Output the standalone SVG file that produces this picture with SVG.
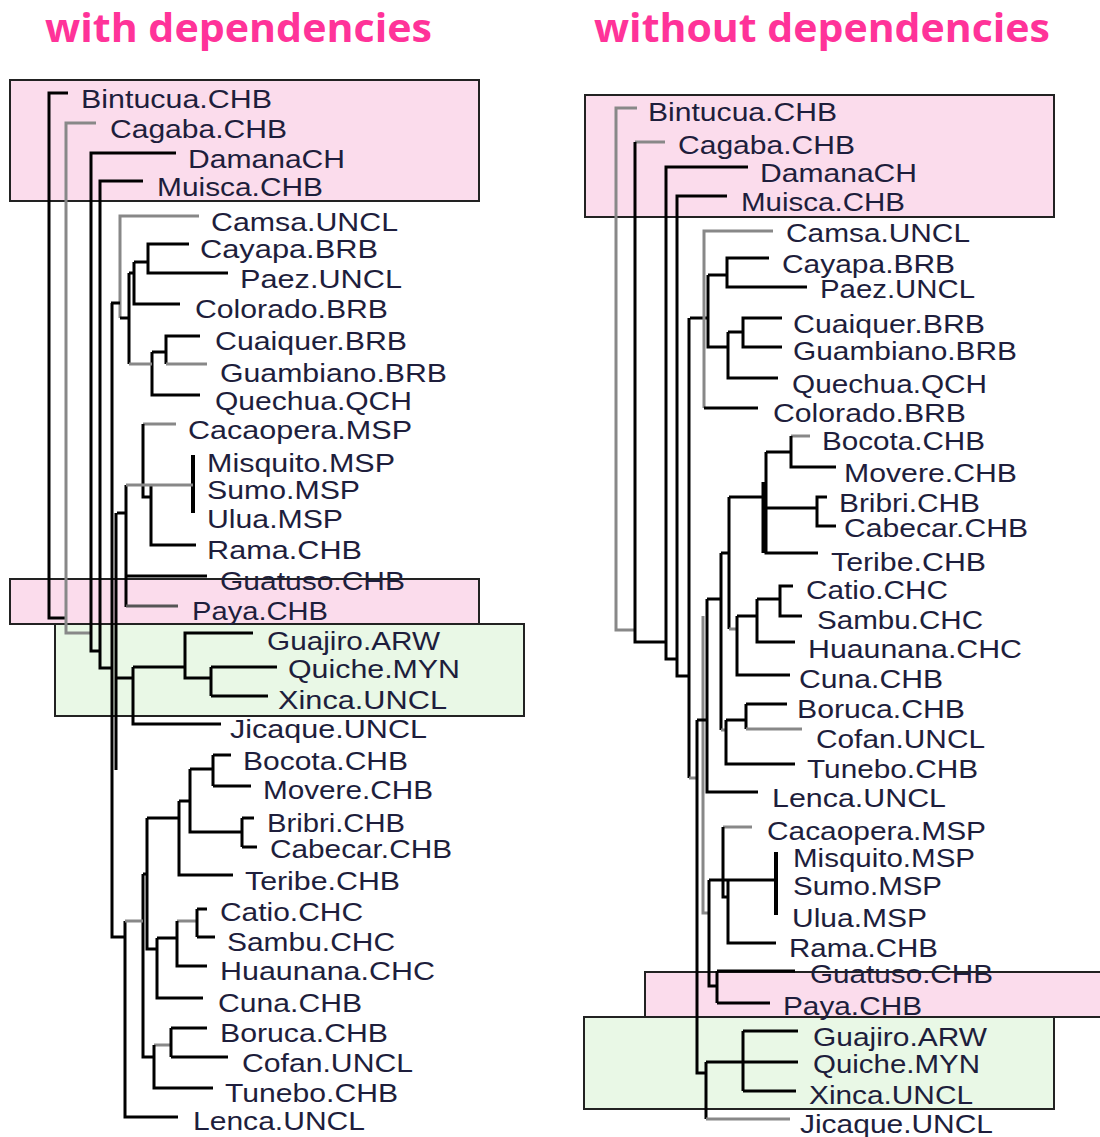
<svg xmlns="http://www.w3.org/2000/svg" width="1100" height="1137" viewBox="0 0 1100 1137">
<style>
.title{font-family:"Open Sans","Noto Sans",sans-serif;font-weight:bold;font-size:40px;fill:#ff3399}
.lbl{font-family:"Liberation Sans",Arial,sans-serif;font-size:26px;fill:#1e1e3c}
.pink{fill:#fbdcec;stroke:#222;stroke-width:2}
.green{fill:#e9f8e6;stroke:#222;stroke-width:2}
.k{fill:none;stroke:#000;stroke-width:3}
.g{fill:none;stroke:#888;stroke-width:3}
</style>
<rect width="1100" height="1137" fill="#fff"/>
<g id="titles">
<text class="title" x="45" y="42" textLength="387" lengthAdjust="spacingAndGlyphs">with dependencies</text>
<text class="title" x="594" y="42" textLength="456" lengthAdjust="spacingAndGlyphs">without dependencies</text>
</g>
<g id="boxes">
<rect id="box-l-top" class="pink" x="10" y="80" width="469" height="121"/>
<rect id="box-l-mid" class="pink" x="10" y="579" width="469" height="45"/>
<rect id="box-l-green" class="green" x="55" y="624" width="469" height="92"/>
<rect id="box-r-top" class="pink" x="585" y="95" width="469" height="122"/>
<rect id="box-r-mid" class="pink" x="645" y="972" width="460" height="45"/>
<rect id="box-r-green" class="green" x="584" y="1017" width="470" height="92"/>
</g>
<g id="connectors">
<path class="k" d="M68,93H49V618H67"/>
<path class="g" d="M96,123H66V633H91"/>
<path class="k" d="M176,153H91V651H100"/>
<path class="k" d="M143,181H100V668H112"/>
<path class="g" d="M199,216H120V318"/>
<path class="k" d="M120,318H129M111,303H120M112,303V937H125M116,513V770"/>
<path class="k" d="M189,244H148V273H228M148,262H134M134,262V304H180M129,273H134M129,273V364"/>
<path class="k" d="M200,336H166V364M152,352H166M152,352V395H200"/>
<path class="g" d="M166,364H207M129,364H152"/>
<path class="g" d="M176,424H143"/>
<path class="k" d="M143,424V497H151M151,485V545H196M126,485V607M126,576H207M117,513H126"/>
<path class="k" d="M193,455V513" style="stroke-width:4"/>
<path class="g" d="M126,485H193"/>
<path d="M126,606H178" fill="none" stroke="#555" stroke-width="3"/>
<path class="k" d="M253,633H185V678H211M211,667V696M211,667H277M211,696H268M133,667H185M133,667V724H221M115,678H133"/>
<path class="k" d="M125,921V1117H178M143,874V1057H154M143,874H147M147,818V949H157M147,818H179M179,801V875H233M179,801H190M190,769V832H242M190,769H213M213,755V786M213,755H231M213,786H251M242,818V847M242,818H254M242,847H257"/>
<path class="g" d="M125,921H143M177,921H197M154,1045H171"/>
<path class="k" d="M157,938V998H203M157,938H177M177,921V966H207M197,909V937M197,909H207M197,937H215"/>
<path class="k" d="M154,1045V1088H213M171,1028V1057M171,1028H207M171,1057H228"/>
<path class="g" d="M637,108H616V630H634"/>
<path class="g" d="M665,142H635"/>
<path class="k" d="M635,142V642H666"/>
<path class="k" d="M748,167H666V659H677"/>
<path class="k" d="M727,196H677V676H689"/>
<path class="k" d="M689,318V778M690,318H708"/>
<path class="g" d="M689,778H697"/>
<path class="g" d="M773,231H704V408"/>
<path class="k" d="M704,408H758M769,258H727V287H807M708,275H727M708,275V347H728M782,318H743V347H782M728,332H743M728,332V378H778"/>
<path class="g" d="M810,436H791"/>
<path class="k" d="M791,436V467H836M766,452H791M766,452V553H818M763,482V553M827,497H817V526H836M766,508H817M729,497H763M729,497V629M721,553H729M721,553V730"/>
<path class="g" d="M729,629H737M721,730H726"/>
<path class="k" d="M707,599H721M707,599V792H758"/>
<path class="g" d="M703,616V913H709"/>
<path class="k" d="M793,586H780V616H802M757,599H780M757,599V642H795M737,616H757M737,616V675H790"/>
<path class="k" d="M726,720V764H795M726,720H746M746,704V729M746,704H787"/>
<path class="g" d="M746,729H802"/>
<path class="k" d="M697,720H707M697,720V1073H706"/>
<path class="g" d="M752,827H723"/>
<path class="k" d="M723,827V897H728M709,880H774M728,880V943H776M709,880V986H717M717,971V1003M717,971H795M717,1003H770"/>
<path class="k" d="M776,852V915" style="stroke-width:4"/>
<path class="k" d="M706,1062V1119M706,1062H743M743,1031V1091M743,1031H798M743,1062H798M743,1091H796"/>
<path class="g" d="M706,1119H790"/>
</g>
<g id="left-labels">
<g id="L-Bintucua"><text class="lbl" x="81" y="108" textLength="191" lengthAdjust="spacingAndGlyphs">Bintucua.CHB</text></g>
<g id="L-Cagaba"><text class="lbl" x="110" y="138" textLength="177" lengthAdjust="spacingAndGlyphs">Cagaba.CHB</text></g>
<g id="L-Damana"><text class="lbl" x="188" y="168" textLength="157" lengthAdjust="spacingAndGlyphs">DamanaCH</text></g>
<g id="L-Muisca"><text class="lbl" x="157" y="196" textLength="166" lengthAdjust="spacingAndGlyphs">Muisca.CHB</text></g>
<g id="L-Camsa"><text class="lbl" x="211" y="231" textLength="187" lengthAdjust="spacingAndGlyphs">Camsa.UNCL</text></g>
<g id="L-Cayapa"><text class="lbl" x="200" y="258" textLength="178" lengthAdjust="spacingAndGlyphs">Cayapa.BRB</text></g>
<g id="L-Paez"><text class="lbl" x="240" y="288" textLength="162" lengthAdjust="spacingAndGlyphs">Paez.UNCL</text></g>
<g id="L-Colorado"><text class="lbl" x="195" y="318" textLength="193" lengthAdjust="spacingAndGlyphs">Colorado.BRB</text></g>
<g id="L-Cuaiquer"><text class="lbl" x="215" y="350" textLength="192" lengthAdjust="spacingAndGlyphs">Cuaiquer.BRB</text></g>
<g id="L-Guambiano"><text class="lbl" x="220" y="382" textLength="227" lengthAdjust="spacingAndGlyphs">Guambiano.BRB</text></g>
<g id="L-Quechua"><text class="lbl" x="215" y="410" textLength="197" lengthAdjust="spacingAndGlyphs">Quechua.QCH</text></g>
<g id="L-Cacaopera"><text class="lbl" x="188" y="439" textLength="224" lengthAdjust="spacingAndGlyphs">Cacaopera.MSP</text></g>
<g id="L-Misquito"><text class="lbl" x="207" y="472" textLength="188" lengthAdjust="spacingAndGlyphs">Misquito.MSP</text></g>
<g id="L-Sumo"><text class="lbl" x="207" y="499" textLength="153" lengthAdjust="spacingAndGlyphs">Sumo.MSP</text></g>
<g id="L-Ulua"><text class="lbl" x="207" y="528" textLength="136" lengthAdjust="spacingAndGlyphs">Ulua.MSP</text></g>
<g id="L-Rama"><text class="lbl" x="207" y="559" textLength="155" lengthAdjust="spacingAndGlyphs">Rama.CHB</text></g>
<g id="L-Guatuso"><text class="lbl" x="220" y="590" textLength="185" lengthAdjust="spacingAndGlyphs">Guatuso.CHB</text></g>
<g id="L-Paya"><text class="lbl" x="192" y="620" textLength="136" lengthAdjust="spacingAndGlyphs">Paya.CHB</text></g>
<g id="L-Guajiro"><text class="lbl" x="267" y="650" textLength="173" lengthAdjust="spacingAndGlyphs">Guajiro.ARW</text></g>
<g id="L-Quiche"><text class="lbl" x="288" y="678" textLength="172" lengthAdjust="spacingAndGlyphs">Quiche.MYN</text></g>
<g id="L-Xinca"><text class="lbl" x="278" y="709" textLength="169" lengthAdjust="spacingAndGlyphs">Xinca.UNCL</text></g>
<g id="L-Jicaque"><text class="lbl" x="230" y="738" textLength="197" lengthAdjust="spacingAndGlyphs">Jicaque.UNCL</text></g>
<g id="L-Bocota"><text class="lbl" x="243" y="770" textLength="165" lengthAdjust="spacingAndGlyphs">Bocota.CHB</text></g>
<g id="L-Movere"><text class="lbl" x="263" y="799" textLength="170" lengthAdjust="spacingAndGlyphs">Movere.CHB</text></g>
<g id="L-Bribri"><text class="lbl" x="267" y="832" textLength="138" lengthAdjust="spacingAndGlyphs">Bribri.CHB</text></g>
<g id="L-Cabecar"><text class="lbl" x="270" y="858" textLength="182" lengthAdjust="spacingAndGlyphs">Cabecar.CHB</text></g>
<g id="L-Teribe"><text class="lbl" x="245" y="890" textLength="155" lengthAdjust="spacingAndGlyphs">Teribe.CHB</text></g>
<g id="L-Catio"><text class="lbl" x="220" y="921" textLength="143" lengthAdjust="spacingAndGlyphs">Catio.CHC</text></g>
<g id="L-Sambu"><text class="lbl" x="227" y="951" textLength="168" lengthAdjust="spacingAndGlyphs">Sambu.CHC</text></g>
<g id="L-Huaunana"><text class="lbl" x="220" y="980" textLength="215" lengthAdjust="spacingAndGlyphs">Huaunana.CHC</text></g>
<g id="L-Cuna"><text class="lbl" x="218" y="1012" textLength="144" lengthAdjust="spacingAndGlyphs">Cuna.CHB</text></g>
<g id="L-Boruca"><text class="lbl" x="220" y="1042" textLength="168" lengthAdjust="spacingAndGlyphs">Boruca.CHB</text></g>
<g id="L-Cofan"><text class="lbl" x="242" y="1072" textLength="171" lengthAdjust="spacingAndGlyphs">Cofan.UNCL</text></g>
<g id="L-Tunebo"><text class="lbl" x="225" y="1102" textLength="173" lengthAdjust="spacingAndGlyphs">Tunebo.CHB</text></g>
<g id="L-Lenca"><text class="lbl" x="193" y="1130" textLength="172" lengthAdjust="spacingAndGlyphs">Lenca.UNCL</text></g>
</g>
<g id="right-labels">
<g id="R-Bintucua"><text class="lbl" x="648" y="121" textLength="189" lengthAdjust="spacingAndGlyphs">Bintucua.CHB</text></g>
<g id="R-Cagaba"><text class="lbl" x="678" y="154" textLength="177" lengthAdjust="spacingAndGlyphs">Cagaba.CHB</text></g>
<g id="R-Damana"><text class="lbl" x="760" y="182" textLength="157" lengthAdjust="spacingAndGlyphs">DamanaCH</text></g>
<g id="R-Muisca"><text class="lbl" x="741" y="211" textLength="164" lengthAdjust="spacingAndGlyphs">Muisca.CHB</text></g>
<g id="R-Camsa"><text class="lbl" x="786" y="242" textLength="184" lengthAdjust="spacingAndGlyphs">Camsa.UNCL</text></g>
<g id="R-Cayapa"><text class="lbl" x="782" y="273" textLength="173" lengthAdjust="spacingAndGlyphs">Cayapa.BRB</text></g>
<g id="R-Paez"><text class="lbl" x="820" y="298" textLength="155" lengthAdjust="spacingAndGlyphs">Paez.UNCL</text></g>
<g id="R-Cuaiquer"><text class="lbl" x="793" y="333" textLength="192" lengthAdjust="spacingAndGlyphs">Cuaiquer.BRB</text></g>
<g id="R-Guambiano"><text class="lbl" x="793" y="360" textLength="224" lengthAdjust="spacingAndGlyphs">Guambiano.BRB</text></g>
<g id="R-Quechua"><text class="lbl" x="792" y="393" textLength="195" lengthAdjust="spacingAndGlyphs">Quechua.QCH</text></g>
<g id="R-Colorado"><text class="lbl" x="773" y="422" textLength="193" lengthAdjust="spacingAndGlyphs">Colorado.BRB</text></g>
<g id="R-Bocota"><text class="lbl" x="822" y="450" textLength="163" lengthAdjust="spacingAndGlyphs">Bocota.CHB</text></g>
<g id="R-Movere"><text class="lbl" x="844" y="482" textLength="173" lengthAdjust="spacingAndGlyphs">Movere.CHB</text></g>
<g id="R-Bribri"><text class="lbl" x="839" y="512" textLength="141" lengthAdjust="spacingAndGlyphs">Bribri.CHB</text></g>
<g id="R-Cabecar"><text class="lbl" x="844" y="537" textLength="184" lengthAdjust="spacingAndGlyphs">Cabecar.CHB</text></g>
<g id="R-Teribe"><text class="lbl" x="831" y="571" textLength="155" lengthAdjust="spacingAndGlyphs">Teribe.CHB</text></g>
<g id="R-Catio"><text class="lbl" x="806" y="599" textLength="142" lengthAdjust="spacingAndGlyphs">Catio.CHC</text></g>
<g id="R-Sambu"><text class="lbl" x="817" y="629" textLength="166" lengthAdjust="spacingAndGlyphs">Sambu.CHC</text></g>
<g id="R-Huaunana"><text class="lbl" x="808" y="658" textLength="214" lengthAdjust="spacingAndGlyphs">Huaunana.CHC</text></g>
<g id="R-Cuna"><text class="lbl" x="799" y="688" textLength="144" lengthAdjust="spacingAndGlyphs">Cuna.CHB</text></g>
<g id="R-Boruca"><text class="lbl" x="797" y="718" textLength="168" lengthAdjust="spacingAndGlyphs">Boruca.CHB</text></g>
<g id="R-Cofan"><text class="lbl" x="816" y="748" textLength="169" lengthAdjust="spacingAndGlyphs">Cofan.UNCL</text></g>
<g id="R-Tunebo"><text class="lbl" x="807" y="778" textLength="171" lengthAdjust="spacingAndGlyphs">Tunebo.CHB</text></g>
<g id="R-Lenca"><text class="lbl" x="772" y="807" textLength="174" lengthAdjust="spacingAndGlyphs">Lenca.UNCL</text></g>
<g id="R-Cacaopera"><text class="lbl" x="767" y="840" textLength="219" lengthAdjust="spacingAndGlyphs">Cacaopera.MSP</text></g>
<g id="R-Misquito"><text class="lbl" x="793" y="867" textLength="182" lengthAdjust="spacingAndGlyphs">Misquito.MSP</text></g>
<g id="R-Sumo"><text class="lbl" x="793" y="895" textLength="149" lengthAdjust="spacingAndGlyphs">Sumo.MSP</text></g>
<g id="R-Ulua"><text class="lbl" x="792" y="927" textLength="135" lengthAdjust="spacingAndGlyphs">Ulua.MSP</text></g>
<g id="R-Rama"><text class="lbl" x="789" y="957" textLength="149" lengthAdjust="spacingAndGlyphs">Rama.CHB</text></g>
<g id="R-Guatuso"><text class="lbl" x="810" y="983" textLength="183" lengthAdjust="spacingAndGlyphs">Guatuso.CHB</text></g>
<g id="R-Paya"><text class="lbl" x="783" y="1015" textLength="139" lengthAdjust="spacingAndGlyphs">Paya.CHB</text></g>
<g id="R-Guajiro"><text class="lbl" x="813" y="1046" textLength="174" lengthAdjust="spacingAndGlyphs">Guajiro.ARW</text></g>
<g id="R-Quiche"><text class="lbl" x="813" y="1073" textLength="167" lengthAdjust="spacingAndGlyphs">Quiche.MYN</text></g>
<g id="R-Xinca"><text class="lbl" x="809" y="1104" textLength="164" lengthAdjust="spacingAndGlyphs">Xinca.UNCL</text></g>
<g id="R-Jicaque"><text class="lbl" x="800" y="1133" textLength="193" lengthAdjust="spacingAndGlyphs">Jicaque.UNCL</text></g>
</g>
</svg>
